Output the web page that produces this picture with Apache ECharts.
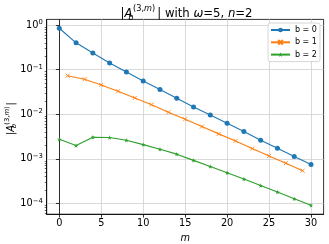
<!DOCTYPE html>
<html><head><meta charset="utf-8">
<script src="https://cdn.jsdelivr.net/npm/echarts@6/dist/echarts.min.js"></script>
<style>html,body{margin:0;padding:0;background:#fff}#c{width:329px;height:244px}</style>
</head><body><div id="c"></div>
<script>
// ---- data ----
const mEven = [0,2,4,6,8,10,12,14,16,18,20,22,24,26,28,30];
const mOdd = [1,3,5,7,9,11,13,15,17,19,21,23,25,27,29];
const b0 = [0.85,0.40,0.237,0.141,0.0888,0.0558,0.036,0.0229,0.0146,0.00966,0.00629,0.00411,0.00261,0.00173,0.00112,0.000748];
const b1 = [0.0733,0.061,0.0454,0.0328,0.0232,0.0164,0.0111,0.00773,0.00527,0.00362,0.00252,0.00169,0.00116,0.000797,0.000541];
const b2 = [0.00275,0.00198,0.00305,0.0030,0.00261,0.00208,0.00164,0.00127,0.00092,0.000668,0.000488,0.000351,0.000251,0.000179,0.000127,0.0000902];
const seriesNames = ['b = 0','b = 1','b = 2'];
const xTicks = [0,5,10,15,20,25,30];
const yTicks = [1e-4,1e-3,1e-2,1e-1,1];
const minorMant = [2,3,4,5,6,7,8,9];
const minorExp = [-5,-4,-3,-2,-1,0];

const FONT = 'DejaVu Sans';
const yMin = 5.70e-5, yMax = 1.343;
const yMinor = [];
minorExp.forEach(e => minorMant.forEach(m => { const v = m * Math.pow(10, e); if (v > yMin && v < yMax) yMinor.push(v); }));

const colors = ['#1f77b4','#ff7f0e','#2ca02c'];
const xPath = 'path://M0,0L10,10M10,0L0,10';
const starPath = 'path://M5,0L6.18,3.38L9.76,3.45L6.9,5.62L7.94,9.05L5,7L2.06,9.05L3.1,5.62L0.24,3.45L3.82,3.38Z';

const chart = echarts.init(document.getElementById('c'), null, {renderer: 'canvas'});
function expLabel(v) {
  const e = Math.round(Math.log10(v));
  if (Math.abs(Math.log10(v) - e) > 1e-6) return '';
  return '{b|10}{s|' + (e < 0 ? '\u2212' + (-e) : e) + '}';
}
const axisFont = {fontFamily: FONT, fontSize: 9.75, color: '#000'};

chart.setOption({
  animation: false,
  backgroundColor: '#fff',
  grid: {left: 46.7, right: 5.4, top: 19.4, bottom: 29.8, show: true, borderColor: '#000', borderWidth: 0.8,
         backgroundColor: 'transparent', containLabel: false, outerBoundsMode: 'none'},
  xAxis: {
    type: 'value', min: -1.5, max: 31.5,
    axisLine: {show: true, lineStyle: {color: '#000', width: 0.8}},
    axisTick: {show: true, length: 3.4, lineStyle: {color: '#000', width: 0.8}, customValues: xTicks},
    axisLabel: Object.assign({margin: 4.5, customValues: xTicks, formatter: v => String(v)}, axisFont),
    splitLine: {show: true, lineStyle: {color: '#d0d0d0', width: 0.8}},
    name: 'm', nameLocation: 'middle', nameGap: 17,
    nameTextStyle: {fontFamily: FONT, fontSize: 9.75, fontStyle: 'italic', color: '#000'}
  },
  yAxis: [{
    type: 'log', logBase: 10, min: yMin, max: yMax,
    axisLine: {show: true, lineStyle: {color: '#000', width: 0.8}},
    axisTick: {show: true, length: 3.4, lineStyle: {color: '#000', width: 0.8}, customValues: yTicks},
    axisLabel: {margin: 4, customValues: yTicks, formatter: expLabel,
      rich: {b: {fontFamily: FONT, fontSize: 9.75, color: '#000', lineHeight: 12},
             s: {fontFamily: FONT, fontSize: 6.8, color: '#000', lineHeight: 7, verticalAlign: 'top'}}},
    splitLine: {show: true, lineStyle: {color: '#d0d0d0', width: 0.8}}
  }, {
    type: 'log', logBase: 10, min: yMin, max: yMax, position: 'left',
    axisLine: {show: true, lineStyle: {color: '#000', width: 0.8}},
    axisTick: {show: true, length: 2, lineStyle: {color: '#000', width: 0.6}, customValues: yMinor},
    axisLabel: {show: false},
    splitLine: {show: false}
  }],
  legend: {
    left: 268, top: 23, orient: 'vertical',
    padding: [3, 3, 3, 2], itemGap: 4.3, itemWidth: 19, itemHeight: 5.8,
    backgroundColor: '#fff', borderColor: '#cccccc', borderWidth: 0.8, borderRadius: 2,
    textStyle: {fontFamily: FONT, fontSize: 8, color: '#000', lineHeight: 8},
    data: seriesNames
  },
  series: [
    {name: seriesNames[0], type: 'line', data: mEven.map((m, i) => [m, b0[i]]), symbol: 'circle', symbolSize: 5,
     lineStyle: {color: colors[0], width: 1.1}, itemStyle: {color: colors[0]}},
    {name: seriesNames[1], type: 'line', data: mOdd.map((m, i) => [m, b1[i]]), symbol: xPath, symbolSize: 4,
     lineStyle: {color: colors[1], width: 1.1}, itemStyle: {color: colors[1], borderColor: colors[1], borderWidth: 0.9}},
    {name: seriesNames[2], type: 'line', data: mEven.map((m, i) => [m, b2[i]]), symbol: starPath, symbolSize: 4.5,
     lineStyle: {color: colors[2], width: 1.1}, itemStyle: {color: colors[2]}}
  ],
  graphic: [
    // title
    {type: 'text', x: 120.5, y: 13.8, style: {text: '|{i|A}', textAlign: 'left', textVerticalAlign: 'middle', font: '11.7px "DejaVu Sans"', fill: '#000',
      rich: {i: {fontFamily: FONT, fontSize: 11.7, fontStyle: 'italic'}}}},
    {type: 'text', x: 133, y: 9.3, style: {text: '(3,{i|m})', textAlign: 'left', textVerticalAlign: 'middle', font: '8.2px "DejaVu Sans"', fill: '#000',
      rich: {i: {fontFamily: FONT, fontSize: 8.2, fontStyle: 'italic'}}}},
    {type: 'text', x: 128.3, y: 17.6, style: {text: 'b', textAlign: 'left', textVerticalAlign: 'middle', font: 'italic 8.2px "DejaVu Sans"', fill: '#000'}},
    {type: 'text', x: 157.3, y: 13.8, style: {text: '| with {i|\u03c9}=5, {i|n}=2', textAlign: 'left', textVerticalAlign: 'middle', font: '11.7px "DejaVu Sans"', fill: '#000',
      rich: {i: {fontFamily: FONT, fontSize: 11.7, fontStyle: 'italic'}}}},
    // y axis label (rotated)
    {type: 'group', x: 11.5, y: 135, rotation: Math.PI / 2, children: [
      {type: 'text', x: 0, y: 0, style: {text: '|{i|A}', textAlign: 'left', textVerticalAlign: 'middle', font: '9.75px "DejaVu Sans"', fill: '#000',
        rich: {i: {fontFamily: FONT, fontSize: 9.75, fontStyle: 'italic'}}}},
      {type: 'text', x: 10.3, y: -3.8, style: {text: '(3,{i|m})', textAlign: 'left', textVerticalAlign: 'middle', font: '6.8px "DejaVu Sans"', fill: '#000',
        rich: {i: {fontFamily: FONT, fontSize: 6.8, fontStyle: 'italic'}}}},
      {type: 'text', x: 6.8, y: 3.2, style: {text: 'b', textAlign: 'left', textVerticalAlign: 'middle', font: 'italic 6.8px "DejaVu Sans"', fill: '#000'}},
      {type: 'text', x: 29.5, y: 0, style: {text: '|', textAlign: 'left', textVerticalAlign: 'middle', font: '9.75px "DejaVu Sans"', fill: '#000'}}
    ]}
  ]
});
</script></body></html>
